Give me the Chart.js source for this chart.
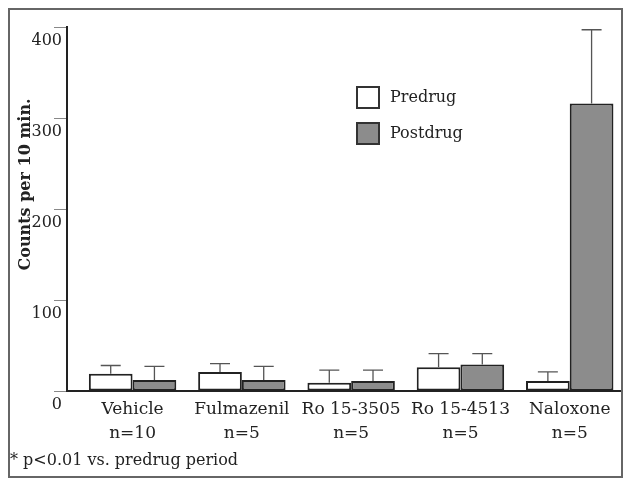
<!DOCTYPE html>
<html lang="en">
<head>
  <meta charset="UTF-8">
  <title>Counts per 10 min.</title>
  <style>
    body {
      margin: 0;
      padding: 0;
      background-color: #fff;
      font-family: "DejaVu Serif", serif;
    }
    .frame {
      position: absolute;
      left: 8px;
      top: 8px;
      width: 611px;
      height: 466px;
      border: 2px solid #666;
    }
    .wrap {
      position: absolute;
      left: 0;
      top: 0;
      width: 624px;
      height: 479px;
    }
    .note {
      position: absolute;
      left: 10px;
      top: 450px;
      font-size: 16px;
      color: #222;
    }
  </style>
</head>
<body>
  <div class="frame"></div>
  <div class="wrap"><canvas id="chart" width="624" height="479"></canvas></div>
  <div class="note">* p&lt;0.01 vs. predrug period</div>

  <script src="https://cdn.jsdelivr.net/npm/chart.js"></script>
  <script>
    // Data
    const groups = ['Vehicle', 'Fulmazenil', 'Ro 15-3505', 'Ro 15-4513', 'Naloxone'];
    const groupN = ['n=10', 'n=5', 'n=5', 'n=5', 'n=5'];
    const predrug = [19, 21, 9, 26, 11];
    const postdrug = [12, 12, 11, 29, 316];
    const predrugErr = [28, 30, 23, 41, 21];   // top of error bar
    const postdrugErr = [27, 27, 23, 41, 397];
    const yTicks = [0, 100, 200, 300, 400];

    const serif = '"DejaVu Serif", serif';

    // error bars drawn from the bar tops using the scales
    const errorBars = {
      id: 'errorBars',
      afterDatasetsDraw(chart) {
        const ctx = chart.ctx;
        const y = chart.scales.y;
        chart.data.datasets.forEach((ds, di) => {
          const meta = chart.getDatasetMeta(di);
          meta.data.forEach((bar, i) => {
            const top = y.getPixelForValue(ds.errTop[i]);
            ctx.save();
            ctx.strokeStyle = '#555';
            ctx.lineWidth = 1.3;
            ctx.beginPath();
            ctx.moveTo(bar.x, bar.y);
            ctx.lineTo(bar.x, top);
            ctx.moveTo(bar.x - 10, top);
            ctx.lineTo(bar.x + 10, top);
            ctx.stroke();
            ctx.restore();
          });
        });
      }
    };

    // legend boxes inside the plot, plus the rotated y title
    const extras = {
      id: 'extras',
      afterDraw(chart) {
        const ctx = chart.ctx;
        ctx.save();
        chart.data.datasets.forEach((ds, i) => {
          const bx = 357, by = 87 + i * 36;
          ctx.fillStyle = ds.backgroundColor;
          ctx.fillRect(bx, by, 22, 21);
          ctx.strokeStyle = '#333';
          ctx.lineWidth = 2;
          ctx.strokeRect(bx, by, 22, 21);
          ctx.fillStyle = '#222';
          ctx.font = '16px ' + serif;
          ctx.textBaseline = 'middle';
          ctx.fillText(ds.label, 390, by + 11);
        });
        const yc = chart.scales.y.getPixelForValue(227);
        ctx.translate(26, yc);
        ctx.rotate(-Math.PI / 2);
        ctx.font = 'bold 16px ' + serif;
        ctx.textAlign = 'center';
        ctx.textBaseline = 'middle';
        ctx.fillStyle = '#222';
        ctx.fillText('Counts per 10 min.', 0, 0);
        ctx.restore();
      }
    };

    new Chart(document.getElementById('chart'), {
      type: 'bar',
      data: {
        datasets: [
          {
            label: 'Predrug',
            data: predrug.map((v, i) => ({ x: i, y: v })),
            errTop: predrugErr,
            backgroundColor: '#ffffff',
            borderColor: '#222',
            borderWidth: 2,
            borderSkipped: false
          },
          {
            label: 'Postdrug',
            data: postdrug.map((v, i) => ({ x: i, y: v })),
            errTop: postdrugErr,
            backgroundColor: '#8c8c8c',
            borderColor: '#222',
            borderWidth: 2,
            borderSkipped: false
          }
        ]
      },
      options: {
        responsive: false,
        animation: false,
        layout: { padding: { left: 0, right: 4, top: 27, bottom: 0 } },
        datasets: { bar: { barPercentage: 1, categoryPercentage: 0.8 } },
        plugins: { legend: { display: false }, tooltip: { enabled: false } },
        scales: {
          x: {
            type: 'linear',
            offset: false,
            min: -0.6,
            max: 4.46,
            afterBuildTicks: s => { s.ticks = groups.map((g, i) => ({ value: i })); },
            afterFit: s => { s.height = 88; },
            grid: { display: false, offset: false },
            border: { display: true, color: '#222', width: 2 },
            ticks: {
              color: '#222',
              padding: -2,
              font: { family: serif, size: 17, lineHeight: 1.45 },
              maxRotation: 0,
              autoSkip: false,
              callback: v => [groups[v], groupN[v]]
            }
          },
          y: {
            min: 0,
            max: 400,
            afterBuildTicks: s => { s.ticks = yTicks.map(v => ({ value: v })); },
            afterFit: s => { s.width = 67; },
            grid: { drawOnChartArea: false, drawTicks: true, tickLength: 13, color: '#888' },
            border: { display: true, color: '#222', width: 2 },
            ticks: {
              color: '#222',
              padding: -8,
              labelOffset: 14,
              font: { family: serif, size: 16 }
            }
          }
        }
      },
      plugins: [errorBars, extras]
    });
  </script>
</body>
</html>
